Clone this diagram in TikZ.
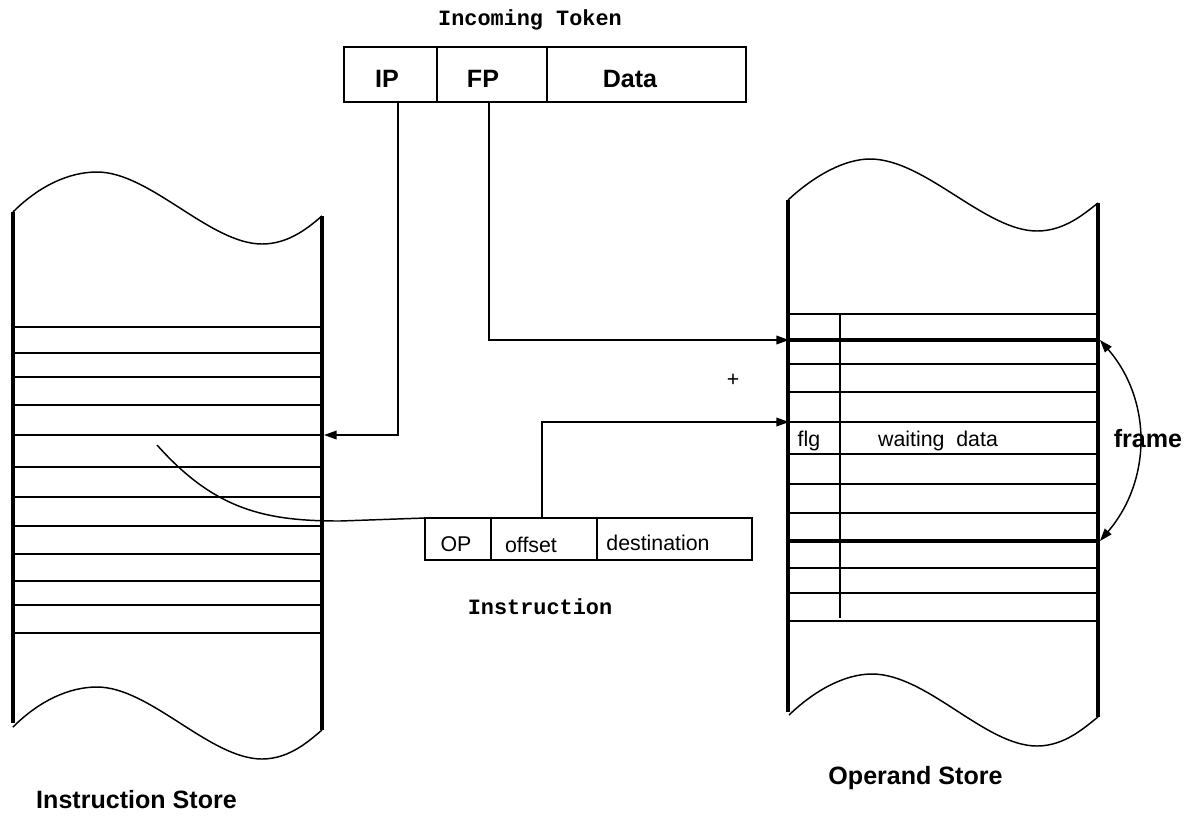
\documentclass[tikz,border=0pt]{standalone}
\usepackage{fontspec}
\setmainfont{Liberation Sans}
\newfontfamily\monofnt{Liberation Mono}
\usetikzlibrary{arrows.meta}
\begin{document}
\begin{tikzpicture}[x=0.75pt,y=-0.75pt,
  wall/.style={line width=2.6pt},
  rowline/.style={line width=1.1pt},
  thickrow/.style={line width=2.3pt},
  thinline/.style={line width=1.1pt},
  arr/.style={line width=1.1pt,-{Triangle[length=9.5pt,width=6.5pt]}},
  darr/.style={line width=1.1pt,{Triangle[length=9.5pt,width=6.5pt]}-{Triangle[length=9.5pt,width=6.5pt]}},
  field/.style={draw,line width=1.1pt,inner sep=0pt,outer sep=0pt,anchor=north west},
  lbl/.style={inner sep=0pt,font=\fontsize{16}{19}\selectfont},
  blbl/.style={inner sep=0pt,font=\fontsize{18.8}{22}\selectfont\bfseries},
  mlbl/.style={inner sep=0pt,font=\fontsize{16.4}{19}\selectfont\monofnt\bfseries}]
\useasboundingbox (0,0) rectangle (1188,819);

% ---- Incoming token
\node[mlbl] (inctok) at (530,20) {Incoming Token};
\node[field,minimum width=69.75pt,minimum height=41.25pt] (ip) at (344,47) {};
\node[field,minimum width=82.5pt,minimum height=41.25pt] (fp) at (437,47) {};
\node[field,minimum width=149.25pt,minimum height=41.25pt] (data) at (547,47) {};
\node[blbl] (iptxt) at (387,79) {IP};
\node[blbl] (fptxt) at (483,79) {FP};
\node[blbl] (datatxt) at (630,79) {Data};

% ---- Instruction store (left)
\draw[thinline] (13,212) .. controls (40,185) and (70,172) .. (97,172)
  .. controls (150,172) and (210,244) .. (262,244)
  .. controls (290,244) and (310,226) .. (322,216);
\draw[thinline] (13,727) .. controls (40,700) and (70,687) .. (97,687)
  .. controls (150,687) and (210,759) .. (262,759)
  .. controls (290,759) and (310,740) .. (322,730);
\draw[wall] (13,212) -- (13,723);
\draw[wall] (322,216) -- (322,730);
\foreach \yy in {327,353,377,405,435,467,497,526,554,581,605,633}
  \draw[rowline] (13,\yy) -- (322,\yy);
\node[blbl] (istorelbl) at (136.5,800) {Instruction Store};

% ---- Operand store (right)
\draw[thinline] (788,200) .. controls (815,175) and (845,159) .. (870,159)
  .. controls (925,159) and (985,231) .. (1037,231)
  .. controls (1065,231) and (1085,213) .. (1098,203);
\draw[thinline] (789,715) .. controls (815,690) and (845,674) .. (872,674)
  .. controls (927,674) and (985,746) .. (1037,746)
  .. controls (1065,746) and (1085,727) .. (1098,717);
\draw[wall] (788,200) -- (788,712);
\draw[wall] (1098,203) -- (1098,717);
\foreach \yy in {314,364,392,422,454,484,513,568,593,621}
  \draw[rowline] (788,\yy) -- (1098,\yy);
\draw[thickrow] (788,340) -- (1098,340);
\draw[thickrow] (788,541) -- (1098,541);
\draw[rowline] (840,314) -- (840,618);
\node[lbl] (flg) at (809,441) {flg};
\node[lbl] (wdata) at (938,441) {waiting\ \ data};
\node[blbl] (ostorelbl) at (915.5,778) {Operand Store};

% frame arrow
\coordinate (ftop) at (1100,340);
\coordinate (fbot) at (1100,541);
\draw[darr] (ftop) .. controls (1152,400) and (1152,480) .. (fbot);
\node[blbl] (frame) at (1148,439) {frame};

% ---- Instruction
\node[field,minimum width=49.5pt,minimum height=31.5pt] (op) at (425,518) {};
\node[field,minimum width=79.5pt,minimum height=31.5pt] (offset) at (491,518) {};
\node[field,minimum width=116.25pt,minimum height=31.5pt] (dest) at (597,518) {};
\node[lbl] (optxt) at (456,544) {OP};
\node[lbl] (offtxt) at (531,545) {offset};
\node[lbl] (desttxt) at (658,543) {destination};
\node[mlbl] (instrlbl) at (540,607) {Instruction};
\node[lbl] (plus) at (733,380) {+};

% ---- connectors
\coordinate (ipout) at (398,102);
\coordinate (ipin) at (324,435);
\draw[arr] (ipout) |- (ipin);
\coordinate (fpout) at (489,102);
\coordinate (fpin) at (789,340);
\draw[arr] (fpout) |- (fpin);
\coordinate (offout) at (542,518);
\coordinate (offin) at (789,422);
\draw[arr] (offout) |- (offin);
\coordinate (curvestart) at (157,445);
\draw[thinline] (curvestart) .. controls (215,510) and (265,521) .. (340,521) -- (op.north west);
\end{tikzpicture}
\end{document}
